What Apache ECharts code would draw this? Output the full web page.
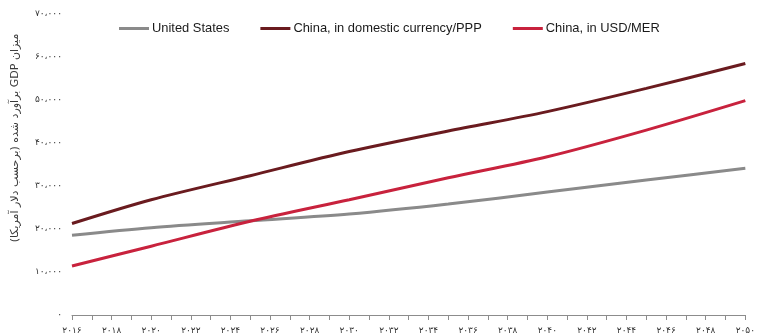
<!DOCTYPE html>
<html>
<head>
<meta charset="utf-8">
<script src="https://cdn.jsdelivr.net/npm/echarts@6/dist/echarts.min.js"></script>
<style>
  html, body { margin: 0; padding: 0; background: #fff; }
  #chart { width: 758px; height: 335px; }
</style>
</head>
<body>
<div id="chart"></div>
<script>
// Projected GDP, billions of US dollars
const years = [2016, 2020, 2025, 2030, 2035, 2040, 2045, 2050];
const usGdp = [18562, 20300, 21900, 23475, 25800, 28600, 31400, 34102];
const chinaPpp = [21269, 26800, 32400, 38008, 42800, 47300, 52700, 58499];
const chinaMer = [11392, 16000, 21800, 26800, 31900, 36800, 43000, 49853];

const seriesNames = ['United States', 'China, in domestic currency/PPP', 'China, in USD/MER'];
const seriesColors = ['#8a8a8a', '#6a1b1f', '#c8223d'];
const yTicks = [0, 10000, 20000, 30000, 40000, 50000, 60000, 70000];
const yTitle = 'میزان GDP برآورد شده (برحسب دلار آمریکا)';

const faDigits = '۰۱۲۳۴۵۶۷۸۹';
function toPersian(str) {
  return String(str).replace(/\d/g, d => faDigits[+d]);
}
function fmtThousands(v) {
  const s = String(Math.round(v)).replace(/\B(?=(\d{3})+(?!\d))/g, '،');
  return toPersian(s);
}

const pairs = vals => years.map((y, i) => [y, vals[i]]);
const allValues = [usGdp, chinaPpp, chinaMer];

const chart = echarts.init(document.getElementById('chart'), null, { renderer: 'canvas' });
chart.setOption({
  animation: false,
  backgroundColor: '#ffffff',
  legend: {
    top: 17,
    left: 114,
    itemWidth: 30,
    itemHeight: 3,
    itemGap: 31,
    icon: 'rect',
    textStyle: { fontFamily: 'Liberation Sans, Arial', fontSize: 12.9, color: '#1a1a1a', padding: [0, 0, 0, -2] },
    data: seriesNames
  },
  grid: { left: 72, right: 6, top: 14, bottom: 18 },
  // vertical axis title, written right-to-left and read bottom-to-top
  graphic: [{
    type: 'text',
    x: 15,
    y: 138,
    rotation: Math.PI / 2,
    style: {
      text: '\u202B' + yTitle + '\u202C',
      fontFamily: 'DejaVu Sans',
      fontSize: 11,
      fill: '#3a3a3a',
      align: 'center',
      verticalAlign: 'middle'
    }
  }],
  xAxis: {
    type: 'value',
    min: years[0],
    max: years[years.length - 1],
    interval: 1,
    axisLine: { show: true, lineStyle: { color: '#8c8c8c', width: 1 } },
    axisTick: { show: true, length: 5, lineStyle: { color: '#8c8c8c' } },
    splitLine: { show: false },
    axisLabel: {
      margin: 11,
      fontFamily: 'DejaVu Sans',
      fontSize: 9,
      color: '#333',
      showMaxLabel: true,
      formatter: v => ((v - years[0]) % 2 === 0 ? toPersian(v) : '')
    }
  },
  yAxis: {
    type: 'value',
    min: yTicks[0],
    max: yTicks[yTicks.length - 1],
    interval: yTicks[1] - yTicks[0],
    axisLine: { show: false },
    axisTick: { show: false },
    splitLine: { show: false },
    axisLabel: {
      margin: 10,
      fontFamily: 'DejaVu Sans',
      fontSize: 9,
      color: '#333',
      verticalAlign: 'middle',
      padding: [0, 0, 8, 0],
      formatter: v => fmtThousands(v)
    }
  },
  series: seriesNames.map((name, i) => ({
    name: name,
    type: 'line',
    data: pairs(allValues[i]),
    symbol: 'none',
    smooth: 0.3,
    lineStyle: { color: seriesColors[i], width: 3 },
    itemStyle: { color: seriesColors[i] }
  }))
});
</script>
</body>
</html>
